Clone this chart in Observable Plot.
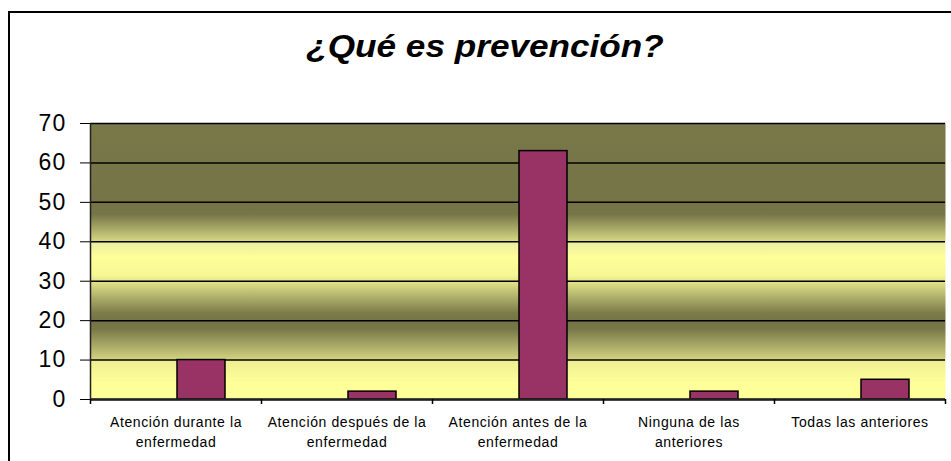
<!DOCTYPE html>
<html>
<head>
<meta charset="utf-8">
<script src="https://cdn.jsdelivr.net/npm/d3@7"></script>
<script src="https://cdn.jsdelivr.net/npm/@observablehq/plot@0.6"></script>
<style>
  html, body { margin: 0; padding: 0; background: #fff; overflow: hidden; }
  #wrap { position: relative; width: 951px; height: 461px; }
  #border { position: absolute; left: 8px; top: 11px; width: 1000px; height: 600px;
            border-left: 2px solid #000; border-top: 2px solid #000; pointer-events: none; }
  #chart { position: absolute; left: 0; top: 0; }
</style>
</head>
<body>
<div id="wrap"><div id="chart"></div><div id="border"></div></div>
<script>
// ---- data ----
const title = "¿Qué es prevención?";
const categories = [
  "Atención durante la enfermedad",
  "Atención después de la enfermedad",
  "Atención antes de la enfermedad",
  "Ninguna de las anteriores",
  "Todas las anteriores"
];
const tickLabels = [
  "Atención durante la\nenfermedad",
  "Atención después de la\nenfermedad",
  "Atención antes de la\nenfermedad",
  "Ninguna de las\nanteriores",
  "Todas las anteriores"
];
const values = [10, 2, 63, 2, 5];
const yTicks = [0, 10, 20, 30, 40, 50, 60, 70];

// ---- styles ----
const light = "#ffff99";
const bgStops = [
  [70, "#787849"], [50, "#747446"], [47, "#757547"], [40.2, "#d6d683"],
  [40, "#ececa0"], [36, light], [31.5, "#f6f694"], [30, "#e4e48a"],
  [22, "#7c7c4b"], [20, "#747446"], [18, "#777748"], [10.2, "#d2d280"],
  [10, "#eeee92"], [4, light], [0, light]
];

const W = 951, H = 461, mL = 90, mR = 6, mT = 123, mB = 62;
const bw = (W - mL - mR) / categories.length;
const data = categories.map((c, i) => ({cat: c, value: values[i]}));
const font = "'Liberation Sans', Arial, Helvetica, sans-serif";

const chart = Plot.plot({
  width: W, height: H,
  marginLeft: mL, marginRight: mR, marginTop: mT, marginBottom: mB,
  style: {fontFamily: font, color: "#000", background: "transparent", overflow: "visible"},
  x: {domain: categories, padding: 0},
  y: {domain: [0, 70]},
  marks: [
    Plot.frame({fill: "url(#bg)", stroke: null}),
    Plot.ruleY(yTicks, {stroke: "#000", strokeWidth: 1.5}),
    Plot.barY(data, {x: "cat", y: "value", fill: "#993366", stroke: "#000", strokeWidth: 1.5,
                     insetLeft: 87, insetRight: 36}),
    Plot.ruleY([0], {stroke: "#222", strokeWidth: 2.5}),
    Plot.ruleX([categories[0]], {dx: -bw / 2, stroke: "#222", strokeWidth: 1.5}),
    Plot.ruleX(categories, {dx: -bw / 2, y1: 0, y2: 0, insetBottom: -5, stroke: "#000", strokeWidth: 1.5}),
    Plot.ruleX([categories[categories.length - 1]], {dx: bw / 2, y1: 0, y2: 0, insetBottom: -5, stroke: "#000", strokeWidth: 1.5}),
    Plot.axisY({ticks: yTicks, tickSize: 10, tickPadding: 14, fontSize: 23, label: null, tickFormat: d => String(d)}),
    Plot.axisX({tickSize: 0, tickPadding: 13, fontSize: 14, lineHeight: 20 / 14, label: null,
                tickFormat: d => tickLabels[categories.indexOf(d)]}),
    Plot.text([title], {frameAnchor: "top", dy: -77, dx: -33, lineAnchor: "middle",
                        fontSize: 31.5, fontWeight: "bold", fontStyle: "italic"})
  ]
});

const svg = d3.select(chart);
// gradient definition for plot background
const grad = svg.insert("defs", ":first-child").append("linearGradient")
  .attr("id", "bg").attr("x1", 0).attr("y1", 0).attr("x2", 0).attr("y2", 1);
bgStops.forEach(([v, c]) => {
  grad.append("stop").attr("offset", (70 - v) / 70).attr("stop-color", c);
});
document.getElementById("chart").appendChild(chart);

// mimic the horizontally stretched original text rendering
svg.selectAll("text").each(function () {
  const t = this.textContent;
  if (t === title) {
    try {
      const r = this.getBoundingClientRect();
      const parent = this.parentNode;
      const m = parent.getCTM();
      const cx = (r.left + r.width / 2 - m.e) / m.a;
      const g = document.createElementNS("http://www.w3.org/2000/svg", "g");
      g.setAttribute("transform", `translate(${cx},0) scale(1.117,1) translate(${-cx},0)`);
      parent.insertBefore(g, this);
      g.appendChild(this);
    } catch (e) { this.style.letterSpacing = "2px"; }
  } else if (/^\d+$/.test(t)) this.style.letterSpacing = "1.2px";
  else this.style.letterSpacing = "0.6px";
});
</script>
</body>
</html>
